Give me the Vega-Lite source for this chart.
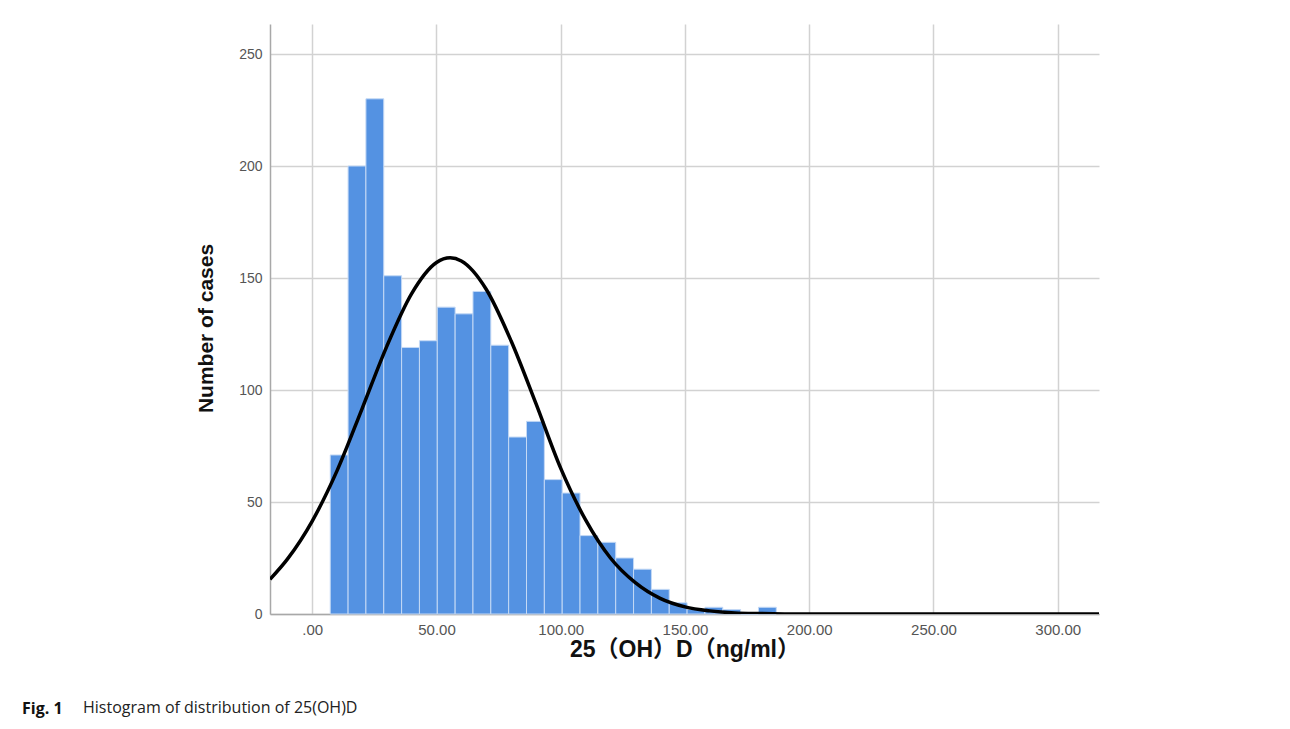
{
  "$schema": "https://vega.github.io/schema/vega-lite/v6.json",
  "padding": {"left": 22, "top": 24, "right": 191, "bottom": 10},
  "background": "white",
  "config": {"view": {"stroke": null}, "font": "Liberation Sans"},
  "title": {
    "text": "Histogram of distribution of 25(OH)D",
    "orient": "bottom",
    "anchor": "start",
    "frame": "bounds",
    "dx": 61,
    "offset": -17,
    "font": "Open Sans",
    "fontSize": 16,
    "fontWeight": "normal",
    "color": "#222"
  },
  "datasets": {
    "bars": [
      {"x0": 7.24, "x1": 14.42, "count": 71},
      {"x0": 14.42, "x1": 21.6, "count": 200},
      {"x0": 21.6, "x1": 28.78, "count": 230},
      {"x0": 28.78, "x1": 35.96, "count": 151},
      {"x0": 35.96, "x1": 43.14, "count": 119},
      {"x0": 43.14, "x1": 50.32, "count": 122},
      {"x0": 50.32, "x1": 57.5, "count": 137},
      {"x0": 57.5, "x1": 64.68, "count": 134},
      {"x0": 64.68, "x1": 71.86, "count": 144},
      {"x0": 71.86, "x1": 79.04, "count": 120},
      {"x0": 79.04, "x1": 86.22, "count": 79},
      {"x0": 86.22, "x1": 93.4, "count": 86},
      {"x0": 93.4, "x1": 100.58, "count": 60},
      {"x0": 100.58, "x1": 107.76, "count": 54},
      {"x0": 107.76, "x1": 114.94, "count": 35},
      {"x0": 114.94, "x1": 122.12, "count": 32},
      {"x0": 122.12, "x1": 129.3, "count": 25},
      {"x0": 129.3, "x1": 136.48, "count": 20},
      {"x0": 136.48, "x1": 143.66, "count": 11},
      {"x0": 143.66, "x1": 150.84, "count": 5},
      {"x0": 150.84, "x1": 158.02, "count": 2},
      {"x0": 158.02, "x1": 165.2, "count": 3},
      {"x0": 165.2, "x1": 172.38, "count": 2},
      {"x0": 172.38, "x1": 179.56, "count": 0},
      {"x0": 179.56, "x1": 186.74, "count": 3}
    ],
    "curve": [
      {"x": -17, "y": 15.5},
      {"x": -10, "y": 24.5},
      {"x": 0, "y": 41.5},
      {"x": 10, "y": 64},
      {"x": 20, "y": 91.5},
      {"x": 30, "y": 119.5},
      {"x": 40, "y": 143},
      {"x": 50, "y": 156.9},
      {"x": 55.5, "y": 159},
      {"x": 60, "y": 157.6},
      {"x": 70, "y": 145},
      {"x": 80, "y": 122},
      {"x": 90, "y": 94},
      {"x": 100, "y": 65},
      {"x": 110, "y": 42},
      {"x": 120, "y": 25},
      {"x": 130, "y": 14},
      {"x": 140, "y": 7},
      {"x": 150, "y": 3.2},
      {"x": 160, "y": 1.4},
      {"x": 170, "y": 0.5},
      {"x": 180, "y": 0.2},
      {"x": 190, "y": 0.05},
      {"x": 200, "y": 0},
      {"x": 316.6, "y": 0}
    ]
  },
  "vconcat": [
    {
      "width": 829,
      "height": 590,
      "title": {
        "text": "Fig. 1",
        "orient": "bottom",
        "anchor": "start",
        "frame": "group",
        "dx": -248,
        "offset": 40,
        "font": "Open Sans",
        "fontSize": 16,
        "fontWeight": "bold",
        "color": "#111"
      },
      "layer": [
        {
          "data": {"name": "bars"},
          "mark": {"type": "bar", "fill": "#5492e2", "stroke": "#c4d9f5", "strokeWidth": 1},
          "encoding": {
            "x": {
              "field": "x0",
              "type": "quantitative",
              "scale": {"domain": [-17, 316.6], "nice": false, "zero": false},
              "axis": {
                "values": [0, 50, 100, 150, 200, 250, 300],
                "labelExpr": "datum.value == 0 ? '.00' : format(datum.value, '.2f')",
                "grid": true,
                "gridColor": "#d2d2d2",
                "gridWidth": 1.5,
                "ticks": false,
                "domainColor": "#a8a8a8",
                "domainWidth": 1.5,
                "labelColor": "#555",
                "labelFont": "Liberation Sans",
                "labelFontSize": 15,
                "labelPadding": 8,
                "title": "25（OH）D（ng/ml）",
                "titleFont": "Liberation Sans, Noto Sans CJK SC",
                "titleFontSize": 23,
                "titleFontWeight": "bold",
                "titleColor": "#111",
                "titlePadding": 1
              }
            },
            "x2": {"field": "x1"},
            "y": {
              "field": "count",
              "type": "quantitative",
              "scale": {"domain": [0, 263.4], "nice": false},
              "axis": {
                "values": [0, 50, 100, 150, 200, 250],
                "grid": true,
                "gridColor": "#d2d2d2",
                "gridWidth": 1.5,
                "ticks": false,
                "domainColor": "#a8a8a8",
                "domainWidth": 1.5,
                "labelColor": "#555",
                "labelFont": "Liberation Sans",
                "labelFontSize": 14,
                "labelPadding": 8,
                "title": "Number of cases",
                "titleFont": "Liberation Sans",
                "titleFontSize": 21,
                "titleFontWeight": "bold",
                "titleColor": "#111",
                "titlePadding": 22,
                "titleY": 304
              }
            },
            "y2": {"datum": 0}
          }
        },
        {
          "data": {"name": "curve"},
          "mark": {"type": "line", "color": "black", "strokeWidth": 3.5, "interpolate": "monotone", "clip": true},
          "encoding": {
            "x": {"field": "x", "type": "quantitative"},
            "y": {"field": "y", "type": "quantitative"}
          }
        }
      ]
    }
  ]
}
